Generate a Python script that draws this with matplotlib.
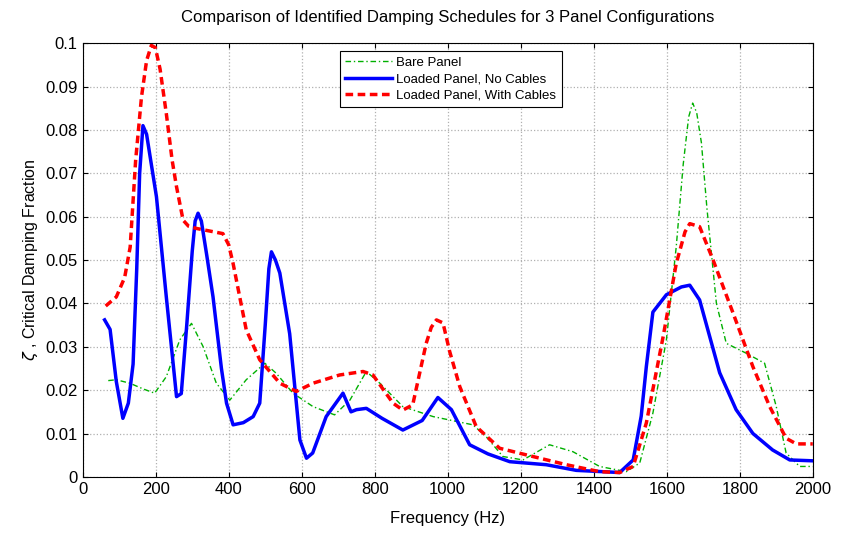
import numpy as np
import matplotlib
matplotlib.use("Agg")
import matplotlib.pyplot as plt

plt.rcParams['font.family'] = ['Liberation Sans', 'DejaVu Sans']

# Bare panel
f_bare = [70, 92, 129, 165, 197, 229, 266, 298, 330, 366, 403, 448, 499, 530, 576, 631, 690,
          732, 777, 814, 877, 960, 1069, 1105, 1151, 1206, 1279, 1343, 1416, 1489, 1526,
          1562, 1599, 1626, 1645, 1660, 1671, 1682, 1695, 1710, 1736, 1763, 1818, 1868, 1900,
          1927, 1964, 2000]
z_bare = [0.0222, 0.0224, 0.0216, 0.0203, 0.0193, 0.0231, 0.0316, 0.0354, 0.030, 0.0216,
          0.0177, 0.0224, 0.0262, 0.0239, 0.0193, 0.0162, 0.0143, 0.0177, 0.0243, 0.0216,
          0.0162, 0.0139, 0.012, 0.0093, 0.0047, 0.0039, 0.0074, 0.0058, 0.0024, 0.0012,
          0.0032, 0.0147, 0.0316, 0.0531, 0.072, 0.083, 0.0862, 0.084, 0.077, 0.062, 0.040,
          0.0308, 0.0285, 0.0262, 0.0162, 0.0055, 0.0024, 0.0024]

# Loaded panel, no cables
f_nc = [60, 75, 92, 110, 125, 138, 148, 156, 165, 175, 190, 202, 229, 257, 270, 285, 300,
        308, 316, 325, 340, 357, 380, 394, 412, 440, 467, 485, 500, 510, 517, 528, 540, 567,
        595, 613, 630, 667, 713, 735, 750, 777, 820, 877, 930, 973, 1010, 1060, 1110, 1170,
        1270, 1352, 1471, 1508, 1530, 1544, 1562, 1599, 1640, 1663, 1690, 1745, 1790, 1836,
        1890, 1937, 2000]
z_nc = [0.0362, 0.034, 0.022, 0.0135, 0.017, 0.026, 0.048, 0.070, 0.081, 0.079, 0.071,
        0.0646, 0.0415, 0.0185, 0.0192, 0.035, 0.052, 0.059, 0.0608, 0.059, 0.051, 0.0415,
        0.025, 0.017, 0.012, 0.0125, 0.0139, 0.017, 0.035, 0.048, 0.0519, 0.050, 0.047,
        0.033, 0.0085, 0.0043, 0.0055, 0.0139, 0.0193, 0.015, 0.0155, 0.0158, 0.0135,
        0.0108, 0.013, 0.0183, 0.0155, 0.0074, 0.0053, 0.0035, 0.0028, 0.0015, 0.001,
        0.0039, 0.014, 0.0254, 0.038, 0.042, 0.0438, 0.0442, 0.0408, 0.024, 0.0155, 0.010,
        0.0062, 0.0039, 0.0037]

# Loaded panel, with cables
f_wc = [63, 92, 115, 130, 145, 161, 175, 188, 199, 212, 229, 245, 257, 275, 290, 311, 384,
        400, 412, 448, 485, 540, 585, 631, 704, 768, 795, 850, 877, 904, 941, 955, 969, 987,
        1005, 1033, 1078, 1142, 1233, 1325, 1416, 1471, 1508, 1544, 1590, 1626, 1650, 1663,
        1690, 1727, 1782, 1836, 1882, 1927, 1955, 2000]
z_wc = [0.0394, 0.0415, 0.046, 0.053, 0.073, 0.0876, 0.096, 0.0995, 0.099, 0.094, 0.0838,
        0.073, 0.0669, 0.0592, 0.0578, 0.0573, 0.0561, 0.0535, 0.0492, 0.0339, 0.027,
        0.0216, 0.0197, 0.0216, 0.0235, 0.0243, 0.0235, 0.017, 0.0154, 0.0166, 0.0308,
        0.0345, 0.0362, 0.0355, 0.029, 0.0208, 0.0116, 0.0066, 0.0047, 0.0028, 0.0012,
        0.001, 0.0024, 0.0124, 0.0323, 0.0492, 0.0565, 0.0584, 0.0577, 0.050, 0.0377,
        0.0254, 0.0162, 0.0089, 0.0076, 0.0076]

fig = plt.figure(figsize=(8.44, 5.34), dpi=100)
ax = fig.add_axes([0.098, 0.107, 0.865, 0.812])

ax.plot(f_bare, z_bare, color="#00b000", linestyle="-.", dashes=(4, 2, 1, 2),
        linewidth=1.0, label="Bare Panel")
ax.plot(f_nc, z_nc, color="b", linestyle="-", linewidth=2.5, label="Loaded Panel, No Cables")
ax.plot(f_wc, z_wc, color="r", linestyle="--", dashes=(2.2, 1.3), linewidth=2.5,
        label="Loaded Panel, With Cables")

ax.set_xlim(0, 2000)
ax.set_ylim(0, 0.1)
ax.set_xticks(np.arange(0, 2001, 200))
ax.set_yticks(np.arange(0, 0.1001, 0.01))
ax.set_yticklabels(["0", "0.01", "0.02", "0.03", "0.04", "0.05", "0.06", "0.07", "0.08", "0.09", "0.1"])
ax.tick_params(direction="in", top=True, right=True, labelsize=12)
ax.grid(True, linestyle=":", color="#b0b0b0", linewidth=0.9)

ax.set_title("Comparison of Identified Damping Schedules for 3 Panel Configurations",
             fontsize=12, pad=15)
ax.set_xlabel("Frequency (Hz)", fontsize=12, labelpad=10)
ax.set_ylabel(r"$\zeta$ , Critical Damping Fraction", fontsize=11.5)

leg = ax.legend(loc="upper left", bbox_to_anchor=(0.352, 0.981), fontsize=9.5,
                fancybox=False, edgecolor="k", framealpha=1, handlelength=3.6,
                borderaxespad=0, labelspacing=0.3, handletextpad=0.3)
leg.get_frame().set_linewidth(0.8)

plt.savefig("out.png")
plt.close()
